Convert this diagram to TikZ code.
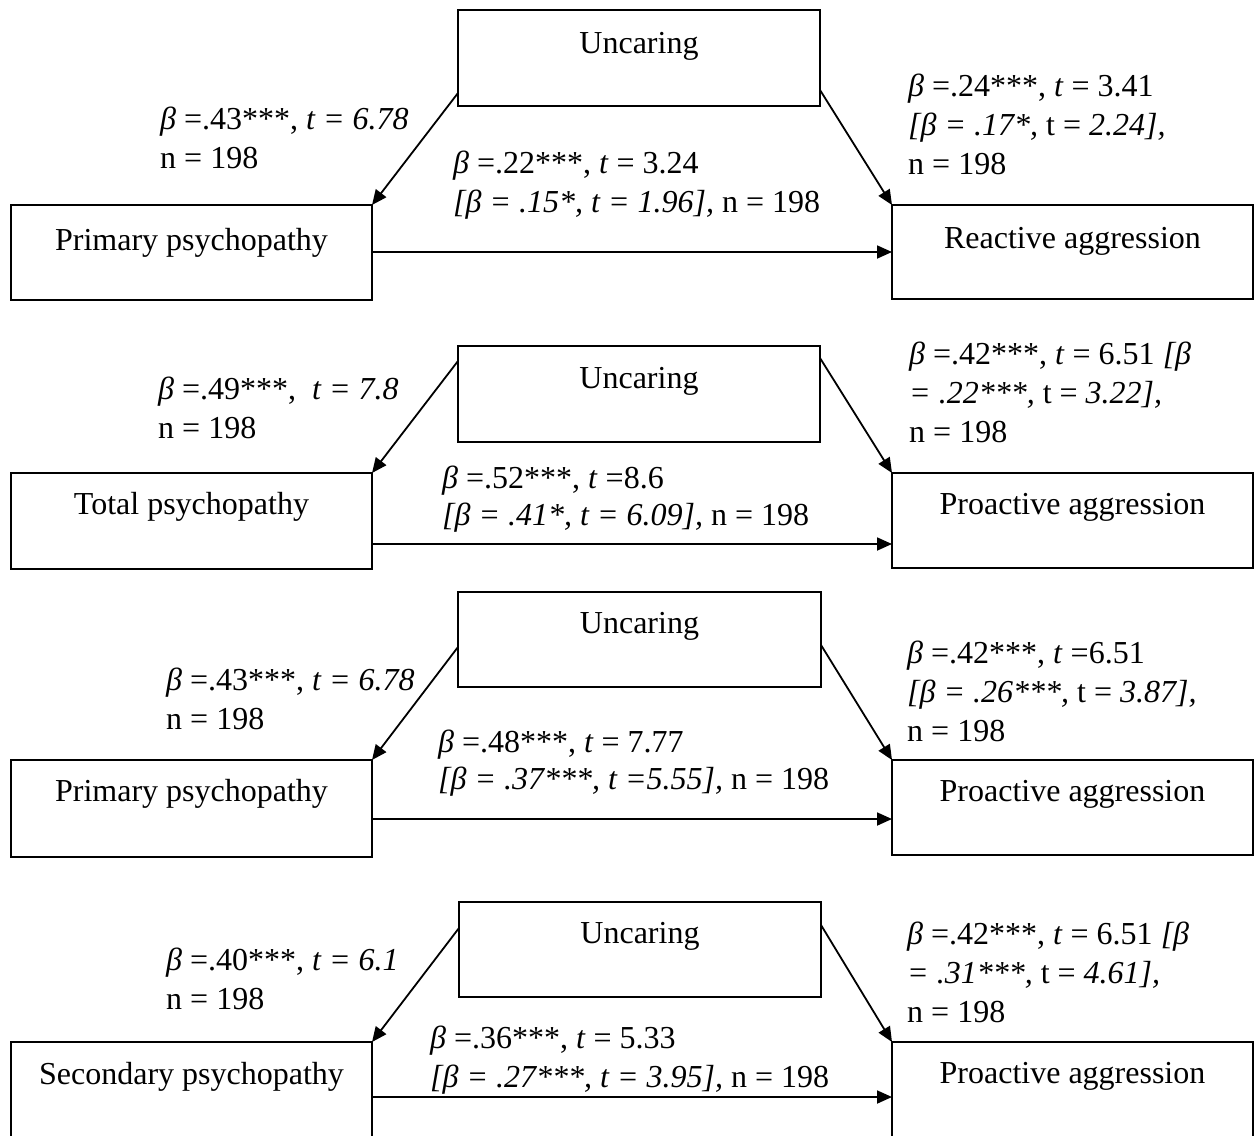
\documentclass[tikz,border=0pt]{standalone}
\usepackage{fontspec}
\setmainfont{Liberation Serif}
\usetikzlibrary{arrows.meta,calc}
% top-aligned stack of lines: the first line's baseline is the node's base
\newcommand\stacklines[1]{\begin{tabular}[t]{@{}l@{}}#1\end{tabular}}
\begin{document}
\begin{tikzpicture}[x=1pt,y=-1pt,
  box/.style={draw, line width=2.7pt, inner sep=0pt, outer sep=0pt, anchor=north west},
  link/.style={line width=1.8pt, -{Triangle[length=15pt,width=13pt]}},
  lbl/.style={inner sep=0pt, anchor=base west, font=\fontsize{32}{39}\selectfont},
  midlbl/.style={lbl, font=\fontsize{32}{37}\selectfont},
  title/.style={inner sep=0pt, anchor=base, font=\fontsize{32}{39}\selectfont}]
\clip (0,0) rectangle (1257,1135);
\fill[white] (0,0) rectangle (1257,1135);

% ---------- Model 1: primary psychopathy -> reactive aggression ----------
\node[box, minimum width=362pt, minimum height=96pt] (u1) at (458,10) {};
\node[box, minimum width=361pt, minimum height=95pt] (p1) at (11,205) {};
\node[box, minimum width=361pt, minimum height=94pt] (r1) at (892,205) {};
\node[title] (u1t) at ($(u1.north)+(0,43)$) {Uncaring};
\node[title] (p1t) at ($(p1.north)+(0,45)$) {Primary psychopathy};
\node[title] (r1t) at ($(r1.north)+(0,43)$) {Reactive aggression};
\coordinate (u1l) at ($(u1.north west)+(0,83)$);
\coordinate (u1r) at ($(u1.north east)+(0,80)$);
\coordinate (p1h) at ($(p1.north east)+(0,47)$);
\draw[link] (u1l) -- (p1.north east);
\draw[link] (u1r) -- (r1.north west);
\draw[link] (p1h) -- (p1h -| r1.west);
\node[lbl] (a1) at (160,129) {\stacklines{\textit{β} =.43***, \textit{t = 6.78}\\ n = 198}};
\node[lbl] (c1) at (453,173) {\stacklines{\textit{β} =.22***, \textit{t} = 3.24\\ \textit{[β = .15*, t = 1.96],} n = 198}};
\node[lbl] (b1) at (908,96) {\stacklines{\textit{β} =.24***, \textit{t} = 3.41\\ \textit{[β = .17*,} t = \textit{2.24],}\\ n = 198}};

% ---------- Model 2: total psychopathy -> proactive aggression ----------
\node[box, minimum width=362pt, minimum height=96pt] (u2) at (458,346) {};
\node[box, minimum width=361pt, minimum height=96pt] (p2) at (11,473) {};
\node[box, minimum width=361pt, minimum height=95pt] (r2) at (892,473) {};
\node[title] (u2t) at ($(u2.north)+(0,42)$) {Uncaring};
\node[title] (p2t) at ($(p2.north)+(0,41)$) {Total psychopathy};
\node[title] (r2t) at ($(r2.north)+(0,41)$) {Proactive aggression};
\coordinate (u2l) at ($(u2.north west)+(0,15)$);
\coordinate (u2r) at ($(u2.north east)+(0,12)$);
\coordinate (p2h) at ($(p2.north east)+(0,71)$);
\draw[link] (u2l) -- (p2.north east);
\draw[link] (u2r) -- (r2.north west);
\draw[link] (p2h) -- (p2h -| r2.west);
\node[lbl] (a2) at (158,399) {\stacklines{\textit{β} =.49***, \ \textit{t = 7.8}\\ n = 198}};
\node[midlbl] (c2) at (442,488) {\stacklines{\textit{β} =.52***, \textit{t} =8.6\\ \textit{[β = .41*, t = 6.09],} n = 198}};
\node[lbl] (b2) at (909,364) {\stacklines{\textit{β} =.42***, \textit{t} = 6.51 \textit{[β}\\ \textit{= .22***,} t = \textit{3.22],}\\ n = 198}};

% ---------- Model 3: primary psychopathy -> proactive aggression ----------
\node[box, minimum width=363pt, minimum height=95pt] (u3) at (458,592) {};
\node[box, minimum width=361pt, minimum height=97pt] (p3) at (11,760) {};
\node[box, minimum width=361pt, minimum height=95pt] (r3) at (892,760) {};
\node[title] (u3t) at ($(u3.north)+(0,41)$) {Uncaring};
\node[title] (p3t) at ($(p3.north)+(0,41)$) {Primary psychopathy};
\node[title] (r3t) at ($(r3.north)+(0,41)$) {Proactive aggression};
\coordinate (u3l) at ($(u3.north west)+(0,55)$);
\coordinate (u3r) at ($(u3.north east)+(0,53)$);
\coordinate (p3h) at ($(p3.north east)+(0,59)$);
\draw[link] (u3l) -- (p3.north east);
\draw[link] (u3r) -- (r3.north west);
\draw[link] (p3h) -- (p3h -| r3.west);
\node[lbl] (a3) at (166,690) {\stacklines{\textit{β} =.43***, \textit{t = 6.78}\\ n = 198}};
\node[midlbl] (c3) at (438,752) {\stacklines{\textit{β} =.48***, \textit{t} = 7.77\\ \textit{[β = .37***, t =5.55],} n = 198}};
\node[lbl] (b3) at (907,663) {\stacklines{\textit{β} =.42***, \textit{t} =6.51\\ \textit{[β = .26***,} t = \textit{3.87],}\\ n = 198}};

% ---------- Model 4: secondary psychopathy -> proactive aggression ----------
\node[box, minimum width=362pt, minimum height=95pt] (u4) at (459,902) {};
\node[box, minimum width=361pt, minimum height=110pt] (p4) at (11,1042) {};
\node[box, minimum width=361pt, minimum height=110pt] (r4) at (892,1042) {};
\node[title] (u4t) at ($(u4.north)+(0,41)$) {Uncaring};
\node[title] (p4t) at ($(p4.north)+(0,42)$) {Secondary psychopathy};
\node[title] (r4t) at ($(r4.north)+(0,41)$) {Proactive aggression};
\coordinate (u4l) at ($(u4.north west)+(0,26)$);
\coordinate (u4r) at ($(u4.north east)+(0,23)$);
\coordinate (p4h) at ($(p4.north east)+(0,55)$);
\draw[link] (u4l) -- (p4.north east);
\draw[link] (u4r) -- (r4.north west);
\draw[link] (p4h) -- (p4h -| r4.west);
\node[lbl] (a4) at (166,970) {\stacklines{\textit{β} =.40***, \textit{t = 6.1}\\ n = 198}};
\node[lbl] (c4) at (430,1048) {\stacklines{\textit{β} =.36***, \textit{t} = 5.33\\ \textit{[β = .27***, t = 3.95],} n = 198}};
\node[lbl] (b4) at (907,944) {\stacklines{\textit{β} =.42***, \textit{t} = 6.51 \textit{[β}\\ \textit{= .31***,} t = \textit{4.61],}\\ n = 198}};
\end{tikzpicture}
\end{document}
